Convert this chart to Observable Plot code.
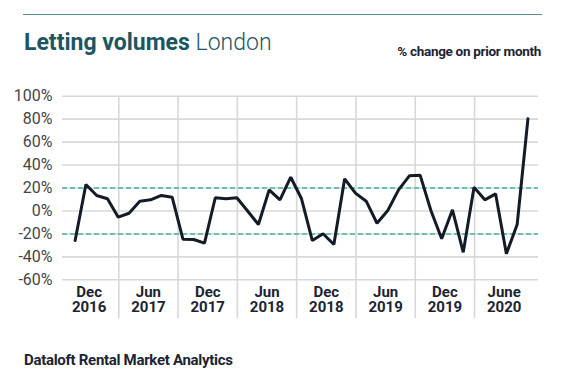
<!DOCTYPE html>
<html>
<head>
<meta charset="utf-8">
<script src="https://cdn.jsdelivr.net/npm/d3@7"></script>
<script src="https://cdn.jsdelivr.net/npm/@observablehq/plot@0.6"></script>
<style>
  html, body { margin: 0; padding: 0; background: #fff; }
  #wrap { position: relative; width: 574px; height: 390px; font-family: Roboto, "Noto Sans", sans-serif; }
  #rule { position: absolute; left: 23px; top: 14px; width: 519px; height: 0; border-top: 1.6px solid #5e8c92; }
  #title { position: absolute; left: 24px; top: 31px; font-size: 23px; line-height: 23px; color: #1d5562; white-space: nowrap; }
  #title b { font-weight: 700; }
  #title span { font-weight: 300; }
  #sub { position: absolute; right: 33px; top: 45px; font-size: 13.5px; line-height: 13.5px; font-weight: 700; color: #1c2431; letter-spacing: -0.3px; white-space: nowrap; }
  #chart { position: absolute; left: 0; top: 80px; }
  #foot { position: absolute; left: 24px; top: 353px; font-size: 15px; line-height: 15px; font-weight: 700; color: #1c2431; letter-spacing: -0.3px; white-space: nowrap; }
</style>
</head>
<body>
<div id="wrap">
  <div id="rule"></div>
  <div id="title"><b>Letting volumes</b> <span>London</span></div>
  <div id="sub">% change on prior month</div>
  <div id="chart"></div>
  <div id="foot">Dataloft Rental Market Analytics</div>
</div>
<script>
// Monthly % change in letting volumes
const values = [
  -25.8, 23.0, 13.5, 10.6, -5.4, -2.0, 8.5, 9.7, 13.5, 12.0,
  -24.6, -24.9, -28.1, 11.5, 10.6, 11.5, 0.0, -11.8, 18.4, 9.7,
  29.4, 10.6, -25.8, -19.9, -29.2, 28.0, 15.5, 8.5, -10.7, 0.4,
  18.4, 30.6, 31.2, 0.4, -24.3, 1.0, -36.0, 20.7, 9.7, 14.9,
  -37.3, -11.8, 80.3
];
const periodLabels = ["Dec\n2016", "Jun\n2017", "Dec\n2017", "Jun\n2018", "Dec\n2018", "Jun\n2019", "Dec\n2019", "June\n2020"];
const yTicks = [-60, -40, -20, 0, 20, 40, 60, 80, 100];
const bandLines = [20, -20];

// layout of the category periods along the index axis
const periodStart = -1.45;
const periodWidth = 5.5;

const data = values.map((v, i) => ({i, v}));
const boundaries = d3.range(1, periodLabels.length).map(k => periodStart + k * periodWidth);
const labelRows = periodLabels.map((label, k) => ({label, x: periodStart + (k + 0.5) * periodWidth}));

const chart = Plot.plot({
  width: 574,
  height: 245,
  marginLeft: 62,
  marginRight: 36,
  marginTop: 15.7,
  marginBottom: 45.7,
  style: {fontFamily: "Roboto, sans-serif", background: "transparent"},
  x: {domain: [-1.17, 42.98], axis: null},
  y: {domain: [-60, 100], axis: null},
  marks: [
    Plot.ruleY(yTicks, {stroke: "#d8d8d8", strokeWidth: 1.6}),
    Plot.ruleX(boundaries, {stroke: "#d8d8d8", strokeWidth: 1.6, insetBottom: -39}),
    Plot.ruleY(bandLines, {stroke: "#4db3a8", strokeWidth: 1.5, strokeDasharray: "5,3"}),
    Plot.line(data, {x: "i", y: "v", stroke: "#131b27", strokeWidth: 3, strokeLinejoin: "miter"}),
    Plot.text(yTicks, {y: d => d, text: d => d + "%", frameAnchor: "left", textAnchor: "end", dx: -10, fontSize: 16, fill: "#454545"}),
    Plot.text(labelRows, {x: "x", text: "label", frameAnchor: "bottom", lineAnchor: "top", dy: 6.2, fontSize: 15, fontWeight: "bold", fill: "#1c2431", lineHeight: 1.0})
  ]
});
document.getElementById("chart").appendChild(chart);
</script>
</body>
</html>
